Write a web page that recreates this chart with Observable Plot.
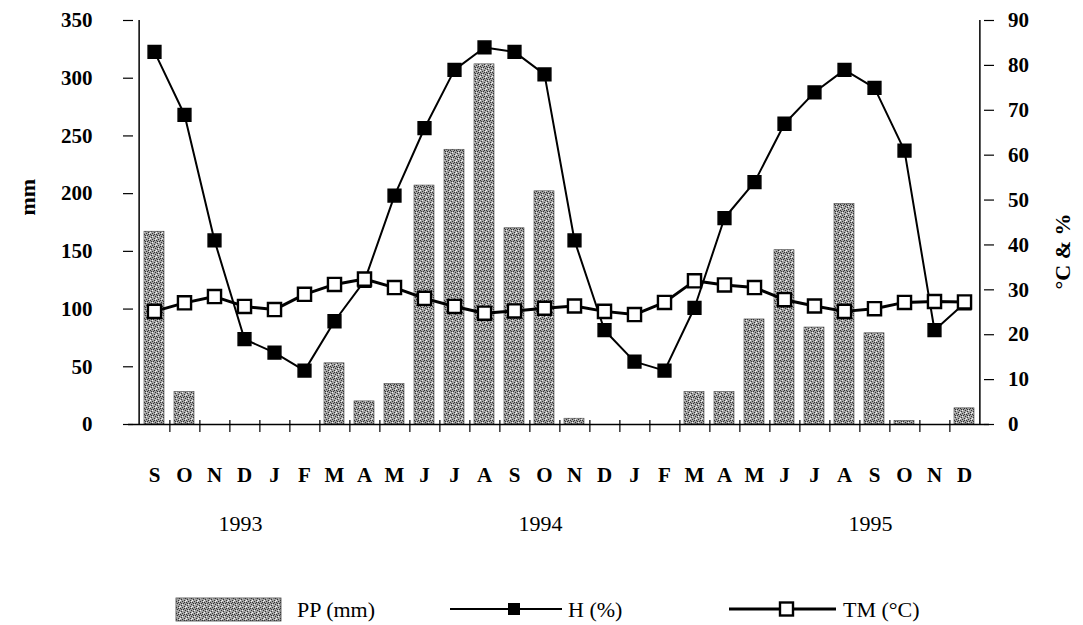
<!DOCTYPE html>
<html>
<head>
<meta charset="utf-8">
<script src="https://cdn.jsdelivr.net/npm/d3@7"></script>
<script src="https://cdn.jsdelivr.net/npm/@observablehq/plot@0.6"></script>
<style>
  html, body { margin: 0; padding: 0; background: #fff; }
  #chart svg, #legend svg { display: block; }
</style>
</head>
<body>
<div id="chart"></div>
<div id="legend"></div>
<script>
// ---- data ----
const months = ["S","O","N","D","J","F","M","A","M","J","J","A","S","O","N","D","J","F","M","A","M","J","J","A","S","O","N","D"];
const pp = [167, 28, 0, 0, 0, 0, 53, 20, 35, 207, 238, 312, 170, 202, 5, 0, 0, 0, 28, 28, 91, 151, 84, 191, 79, 3, 0, 14];
const humidity = [83, 69, 41, 19, 16, 12, 23, 32, 51, 66, 79, 84, 83, 78, 41, 21, 14, 12, 26, 46, 54, 67, 74, 79, 75, 61, 21, 27];
const temperature = [25.2, 27.1, 28.5, 26.3, 25.6, 29.0, 31.2, 32.4, 30.5, 28.1, 26.3, 24.8, 25.3, 25.9, 26.4, 25.2, 24.5, 27.2, 32.0, 31.1, 30.5, 27.8, 26.4, 25.2, 25.8, 27.2, 27.4, 27.3];
const years = ["1993", "1994", "1995"];
const yearMonthIndex = [3, 13, 24];
const leftTicks = [0, 50, 100, 150, 200, 250, 300, 350];
const rightTicks = [0, 10, 20, 30, 40, 50, 60, 70, 80, 90];

// ---- layout ----
const FONT = '"Liberation Serif", "Times New Roman", serif';
const W = 1083, H = 560, mL = 128, mR = 94, mT = 20, mB = 136;
const plotW = W - mL - mR;
const step = plotW / months.length;
const k = 350 / 90; // right axis units -> left axis units

const data = months.map((m, i) => ({i, m, pp: pp[i], h: humidity[i], t: temperature[i]}));
const lastI = data[data.length - 1].i;
const yearData = years.map((label, j) => ({label, i: yearMonthIndex[j]}));

const svg = Plot.plot({
  width: W, height: H,
  marginLeft: mL, marginRight: mR, marginTop: mT, marginBottom: mB,
  style: {fontFamily: FONT, fontSize: "20px", color: "black", background: "white"},
  x: {type: "band", domain: data.map(d => d.i), paddingInner: 0.35, paddingOuter: 0.175, label: null},
  y: {domain: [0, 350], label: null},
  marks: [
    Plot.barY(data, {x: "i", y: "pp", fill: "url(#stipple)", stroke: "#444", strokeWidth: 0.6}),
    // axis lines
    Plot.ruleY([0], {stroke: "black", strokeWidth: 1.5}),
    Plot.ruleX([data[0].i], {x: d => d, dx: -step / 2, y1: 0, y2: 350, stroke: "black", strokeWidth: 1.5}),
    Plot.ruleX([lastI], {x: d => d, dx: step / 2, y1: 0, y2: 350, stroke: "black", strokeWidth: 1.5}),
    // x boundary ticks
    Plot.ruleX(data.slice(0, data.length - 1), {x: "i", dx: step / 2, y1: -7, y2: 3.5, stroke: "black", strokeWidth: 1.2}),
    // y ticks crossing axes
    Plot.ruleY(leftTicks, {y: d => d, insetLeft: -5, insetRight: plotW - 5, stroke: "black", strokeWidth: 1.2}),
    Plot.ruleY(rightTicks, {y: d => d * k, insetLeft: plotW - 5, insetRight: -5, stroke: "black", strokeWidth: 1.2}),
    Plot.axisY({anchor: "left", ticks: leftTicks, tickSize: 0, tickPadding: 36, fontSize: 21, fontWeight: "bold", label: null}),
    Plot.text(rightTicks, {x: () => lastI, y: d => d * k, text: d => String(d), dx: step / 2 + 28, textAnchor: "start", fontSize: 21, fontWeight: "bold"}),
    Plot.axisX({tickSize: 0, tickPadding: 43, tickFormat: i => months[i], fontSize: 21, fontWeight: "bold", label: null}),
    // humidity
    Plot.lineY(data, {x: "i", y: d => d.h * k, stroke: "black", strokeWidth: 2}),
    Plot.dot(data, {x: "i", y: d => d.h * k, symbol: "square", r: 7.2, fill: "black", stroke: "black"}),
    // temperature
    Plot.lineY(data, {x: "i", y: d => d.t * k, stroke: "black", strokeWidth: 3}),
    Plot.dot(data, {x: "i", y: d => d.t * k, symbol: "square", r: 7.4, fill: "white", stroke: "black", strokeWidth: 2.4}),
    // axis titles
    Plot.text(["mm"], {text: d => d, frameAnchor: "left", dx: -101, dy: -7, rotate: -90, fontSize: 22, fontWeight: "bold"}),
    Plot.text(["°C & %"], {text: d => d, frameAnchor: "right", dx: 73, dy: -9, rotate: -90, fontSize: 22, fontWeight: "bold"}),
    // years
    Plot.text(yearData, {x: "i", text: "label", frameAnchor: "bottom", dy: 106, dx: -4, fontSize: 22})
  ]
});

// stipple texture for the bars
const defs = d3.select(svg).insert("defs", ":first-child");
const pat = defs.append("pattern").attr("id", "stipple").attr("patternUnits", "userSpaceOnUse").attr("width", 6).attr("height", 6);
pat.append("rect").attr("width", 6).attr("height", 6).attr("fill", "#a4a4a4");
[[0,0],[3,1],[1,3],[4,4],[2,5],[5,2],[4,0],[1,1]].forEach(([x, y]) => pat.append("rect").attr("x", x).attr("y", y).attr("width", 1).attr("height", 1).attr("fill", "#333"));
[[2,2],[5,5],[0,4]].forEach(([x, y]) => pat.append("rect").attr("x", x).attr("y", y).attr("width", 1).attr("height", 1).attr("fill", "#f2f2f2"));

document.getElementById("chart").appendChild(svg);

// ---- legend ----
const lg = d3.select("#legend").append("svg").attr("width", W).attr("height", 65)
  .style("font-family", FONT).style("background", "white");
const cy = 49;
lg.append("rect").attr("x", 176).attr("y", cy - 11).attr("width", 105).attr("height", 23).attr("fill", "url(#stipple)").attr("stroke", "#444").attr("stroke-width", 0.8);
lg.append("text").attr("x", 297).attr("y", cy).attr("dy", "0.35em").attr("font-size", 22).text("PP (mm)");
lg.append("line").attr("x1", 450).attr("x2", 562).attr("y1", cy).attr("y2", cy).attr("stroke", "black").attr("stroke-width", 2);
lg.append("rect").attr("x", 508).attr("y", cy - 6).attr("width", 12).attr("height", 12).attr("fill", "black");
lg.append("text").attr("x", 568).attr("y", cy).attr("dy", "0.35em").attr("font-size", 22).text("H (%)");
lg.append("line").attr("x1", 729).attr("x2", 836).attr("y1", cy).attr("y2", cy).attr("stroke", "black").attr("stroke-width", 3);
lg.append("rect").attr("x", 780).attr("y", cy - 6.5).attr("width", 13).attr("height", 13).attr("fill", "white").attr("stroke", "black").attr("stroke-width", 2.4);
lg.append("text").attr("x", 843).attr("y", cy).attr("dy", "0.35em").attr("font-size", 22).text("TM (°C)");
</script>
</body>
</html>
